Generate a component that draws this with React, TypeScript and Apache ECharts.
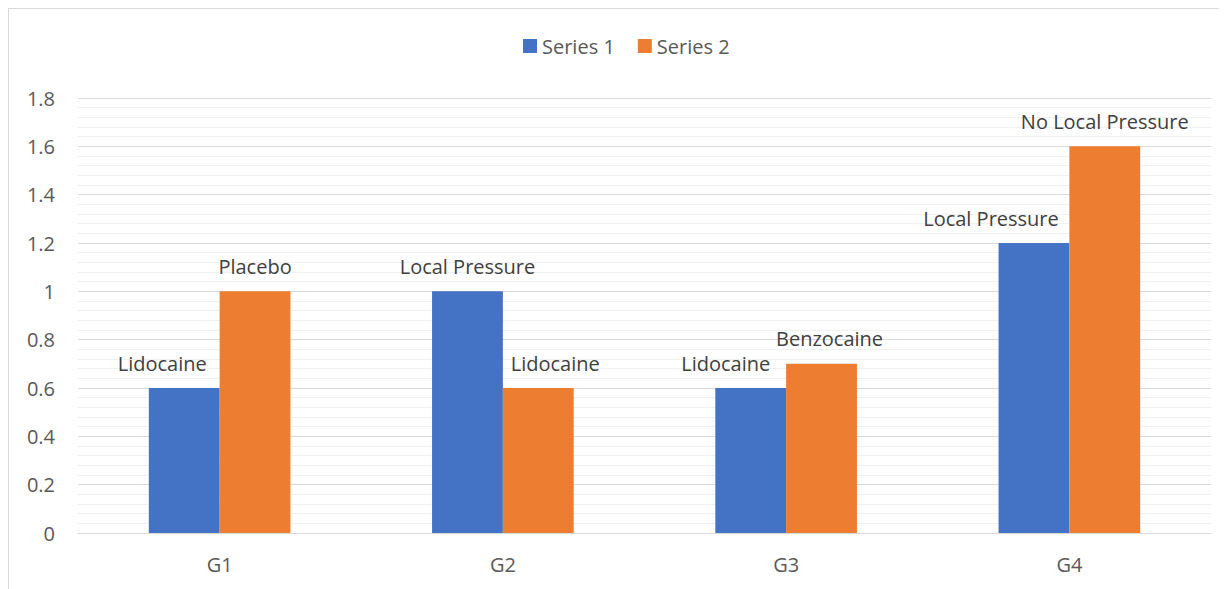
import React, { useEffect, useRef } from "react";
import * as echarts from "echarts";

const categories = ["G1", "G2", "G3", "G4"];
const series1Values = [0.6, 1.0, 0.6, 1.2];
const series2Values = [1.0, 0.6, 0.7, 1.6];
const series1Labels = ["Lidocaine", "Local Pressure", "Lidocaine", "Local Pressure"];
const series2Labels = ["Placebo", "Lidocaine", "Benzocaine", "No Local Pressure"];
const series1LabelShift = [-22, 0, -25, -43];
const series2LabelShift = [0, 17, 8, 0];

const FONT = "'Open Sans', sans-serif";
const FS = 20;

export default function App() {
  const ref = useRef<HTMLDivElement>(null);
  useEffect(() => {
    if (!ref.current) return;
    const chart = echarts.init(ref.current, undefined, { renderer: "svg" });
    const mk = (vals: number[], labels: string[], shifts: number[]) =>
      vals.map((v, i) => ({
        value: v,
        label: { formatter: labels[i], offset: [shifts[i], 0] },
      }));
    const labelStyle = {
      show: true,
      position: "top",
      distance: 15,
      fontSize: FS,
      color: "#404040",
      fontFamily: FONT,
    };
    chart.setOption({
      animation: false,
      textStyle: { fontFamily: FONT },
      legend: {
        left: 509,
        top: 22,
        itemWidth: 14,
        itemHeight: 14,
        itemGap: 23,
        icon: "rect",
        textStyle: { fontSize: FS, color: "#595959", fontFamily: FONT },
        data: ["Series 1", "Series 2"],
      },
      grid: { left: 69, right: 16, top: 89, bottom: 56 },
      xAxis: {
        type: "category",
        data: categories,
        axisLine: { lineStyle: { color: "#d9d9d9", width: 1 } },
        axisTick: { show: false },
        axisLabel: { fontSize: FS, color: "#595959", margin: 21, fontFamily: FONT },
      },
      yAxis: {
        type: "value",
        min: 0,
        max: 1.8,
        interval: 0.2,
        axisLine: { show: false },
        axisTick: { show: false },
        axisLabel: { fontSize: FS, color: "#595959", margin: 23, fontFamily: FONT },
        splitLine: { lineStyle: { color: "#d9d9d9", width: 1 } },
        minorTick: { show: false, splitNumber: 5 },
        minorSplitLine: { show: true, lineStyle: { color: "#f0f0f0", width: 1 } },
      },
      series: [
        {
          name: "Series 1",
          type: "bar",
          barGap: "0%",
          barCategoryGap: "50%",
          itemStyle: { color: "#4472C4" },
          label: labelStyle,
          data: mk(series1Values, series1Labels, series1LabelShift),
        },
        {
          name: "Series 2",
          type: "bar",
          itemStyle: { color: "#ED7D31" },
          label: labelStyle,
          data: mk(series2Values, series2Labels, series2LabelShift),
        },
      ],
    });
    return () => chart.dispose();
  }, []);
  return (
    <div
      ref={ref}
      style={{
        width: 1219,
        height: 581,
        boxSizing: "border-box",
        borderLeft: "1px solid #d9d9d9",
        borderTop: "1px solid #d9d9d9",
        background: "#fff",
      }}
    />
  );
}
